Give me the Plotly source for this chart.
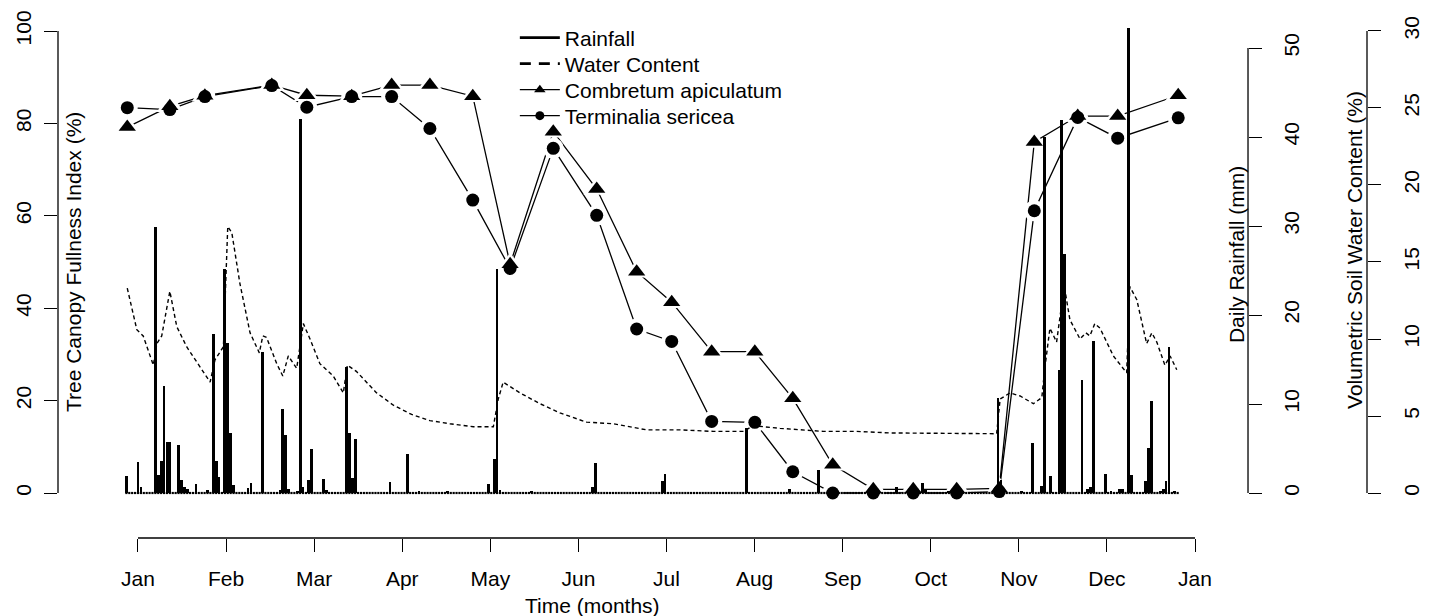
import plotly.graph_objects as go

# ---------------- data ----------------
MONTH_LABELS = ["Jan", "Feb", "Mar", "Apr", "May", "Jun", "Jul", "Aug",
                "Sep", "Oct", "Nov", "Dec", "Jan"]

# canopy survey dates, in days since 1 January
SURVEY_DAYS = [-3.7, 11.0, 23.1, 46.2, 58.3, 73.8, 87.6, 100.8, 115.6, 128.5,
               143.4, 158.4, 172.2, 184.3, 198.1, 213.0, 226.1, 239.9, 253.9,
               267.7, 282.7, 297.4, 309.5, 324.5, 338.3, 359.2]
COMBRETUM = [79.2, 83.7, 86.0, 88.3, 86.1, 85.9, 88.3, 88.3, 85.9, 49.5,
             78.2, 65.8, 47.9, 41.3, 30.6, 30.6, 20.5, 6.1, 0.8, 0.8,
             0.8, 1.0, 76.0, 81.6, 81.6, 86.1]
TERMINALIA = [83.4, 83.0, 85.8, 88.2, 83.5, 85.8, 85.8, 78.9, 63.4, 48.6,
              74.6, 60.1, 35.5, 32.8, 15.5, 15.3, 4.6, 0.0, 0.0, 0.0,
              0.0, 0.3, 61.1, 81.3, 76.8, 81.2]

# daily rainfall record (days since 1 January); days not listed had no rain
RECORD_FIRST_DAY = -4
RECORD_LAST_DAY = 359
RAIN_DAYS = [-4, 0, 1, 6, 7, 8, 9, 10, 11, 14, 15, 16, 17, 20, 24, 26, 27, 28,
             30, 31, 32, 33, 38, 39, 43, 49, 50, 51, 52, 55, 56, 57, 59, 60,
             64, 65, 72, 73, 74, 75, 87, 93, 97, 107, 121, 123, 124, 125, 136,
             157, 158, 181, 182, 210, 225, 235, 253, 262, 271, 272, 280, 297,
             298, 305, 309, 312, 313, 315, 318, 319, 320, 326, 328, 329, 330,
             334, 336, 339, 340, 342, 343, 348, 349, 350, 353, 354, 355, 356,
             358]
RAIN_MM = [1.9, 3.5, 0.7, 29.9, 2.0, 3.55, 12.0, 5.7, 5.7, 5.35, 1.5, 0.7,
           0.5, 1.05, 0.3, 17.9, 3.6, 1.8, 25.2, 16.9, 6.7, 0.9, 0.6, 1.1,
           15.8, 0.3, 9.4, 6.5, 0.5, 0.2, 42.0, 0.7, 1.5, 4.9, 1.6, 0.3,
           14.2, 6.7, 1.7, 6.1, 1.2, 4.4, 0.2, 0.2, 1.0, 3.8, 25.2, 0.3, 0.2,
           0.7, 3.4, 1.4, 2.1, 7.3, 0.5, 2.6, 0.3, 0.7, 1.1, 0.5, 0.2, 10.7,
           1.5, 0.2, 5.65, 0.75, 40.0, 1.9, 13.8, 41.9, 26.9, 12.7, 0.5, 0.7,
           17.1, 2.1, 0.2, 0.5, 0.5, 52.2, 2.05, 1.4, 5.05, 10.3, 0.2, 0.4,
           1.3, 16.4, 0.2]

# volumetric soil water content (%)
WATER_DAYS = [-3.7, -0.4, 1.8, 5.3, 6.5, 8.2, 11.0, 13.4, 16.8, 24.9, 26.6,
              28.3, 29.5, 31.0, 32.4, 35.2, 38.7, 41.9, 43.1, 44.4, 47.9, 50.0,
              51.9, 54.8, 55.9, 57.1, 59.4, 62.8, 67.4, 70.9, 72.3, 75.4, 82.4,
              88.2, 94.5, 100.8, 107.7, 115.8, 122.7, 124.4, 126.1, 131.9,
              138.8, 145.7, 154.9, 164.1, 175.6, 187.2, 198.7, 209.1, 212.5,
              221.7, 236.6, 248.2, 259.7, 271.2, 282.7, 296.5, 297.7, 301.1,
              304.6, 309.2, 312.1, 313.2, 314.9, 317.2, 319.0, 319.7, 321.8,
              325.3, 327.3, 328.7, 330.4, 332.2, 336.8, 341.4, 342.5, 344.9,
              348.3, 350.1, 351.8, 354.6, 356.4, 358.7]
WATER_PCT = [13.3, 10.6, 10.2, 8.3, 9.7, 10.2, 13.1, 10.8, 9.5, 7.2, 8.65,
             9.2, 9.5, 17.3, 16.9, 13.6, 10.4, 9.1, 10.2, 10.1, 8.4, 7.6,
             8.9, 8.1, 9.5, 11.0, 10.0, 8.4, 7.6, 6.5, 8.3, 7.9, 6.5,
             5.7, 5.1, 4.7, 4.5, 4.3, 4.3, 6.1, 7.2, 6.5,
             5.8, 5.2, 4.6, 4.5, 4.1, 4.1, 4.0, 4.0, 4.37,
             4.2, 4.0, 4.0, 3.9, 3.88, 3.9, 3.85, 6.1, 6.5,
             6.3, 5.8, 6.2, 8.2, 10.7, 9.8, 12.3, 13.6, 11.25,
             10.0, 10.4, 10.2, 11.0, 10.7, 8.9, 7.8, 13.4, 12.55,
             9.7, 10.4, 9.8, 8.3, 8.9, 8.0]

# ---------------- derived series ----------------
rain_lookup = dict(zip(RAIN_DAYS, RAIN_MM))
all_days = list(range(RECORD_FIRST_DAY, RECORD_LAST_DAY + 1))
all_rain = [rain_lookup.get(d, 0.0) for d in all_days]
month_ticks = [i * 365 / 12 for i in range(len(MONTH_LABELS))]

FONT = "Liberation Sans, Arial, Helvetica, sans-serif"
FS = 21
BLACK = "#000000"

fig = go.Figure()

# species lines (gaps around points are produced by white halos)
fig.add_trace(go.Scatter(x=SURVEY_DAYS, y=COMBRETUM, mode="lines",
                         line=dict(color=BLACK, width=1.3), showlegend=False,
                         hoverinfo="skip"))
fig.add_trace(go.Scatter(x=SURVEY_DAYS, y=TERMINALIA, mode="lines",
                         line=dict(color=BLACK, width=1.3), showlegend=False,
                         hoverinfo="skip"))
fig.add_trace(go.Scatter(x=SURVEY_DAYS, y=COMBRETUM, mode="markers",
                         marker=dict(symbol="triangle-up", size=23, color="white"),
                         showlegend=False, hoverinfo="skip"))
fig.add_trace(go.Scatter(x=SURVEY_DAYS, y=TERMINALIA, mode="markers",
                         marker=dict(symbol="circle", size=21, color="white"),
                         showlegend=False, hoverinfo="skip"))
fig.add_trace(go.Scatter(x=SURVEY_DAYS, y=COMBRETUM, mode="markers",
                         marker=dict(symbol="triangle-up", size=15, color=BLACK),
                         showlegend=False, name="Combretum apiculatum"))
fig.add_trace(go.Scatter(x=SURVEY_DAYS, y=TERMINALIA, mode="markers",
                         marker=dict(symbol="circle", size=13, color=BLACK),
                         showlegend=False, name="Terminalia sericea"))

# rainfall bars (right axis 1)
fig.add_trace(go.Bar(x=all_days, y=all_rain, yaxis="y2", width=0.95,
                     marker=dict(color=BLACK, line=dict(width=0)),
                     showlegend=False, name="Rainfall"))
fig.add_trace(go.Scatter(x=all_days, y=[0.0] * len(all_days), yaxis="y2",
                         mode="markers",
                         marker=dict(symbol="square", size=2.2, color=BLACK),
                         showlegend=False, hoverinfo="skip"))

# soil water content (right axis 2)
fig.add_trace(go.Scatter(x=WATER_DAYS, y=WATER_PCT, yaxis="y3", mode="lines",
                         line=dict(color=BLACK, width=1.4, dash="4px,3px"),
                         showlegend=False, name="Water Content"))

# legend entries, one legend per row so that the row spacing matches
fig.add_trace(go.Scatter(x=[None], y=[None], mode="lines", name="Rainfall",
                         line=dict(color=BLACK, width=2.6), legend="legend"))
fig.add_trace(go.Scatter(x=[None], y=[None], mode="lines", name="Water Content",
                         line=dict(color=BLACK, width=2.6, dash="11px,8px"),
                         legend="legend2"))
fig.add_trace(go.Scatter(x=[None], y=[None], mode="lines+markers",
                         name="Combretum apiculatum",
                         line=dict(color=BLACK, width=1.3),
                         marker=dict(symbol="triangle-up", size=10, color=BLACK),
                         legend="legend3"))
fig.add_trace(go.Scatter(x=[None], y=[None], mode="lines+markers",
                         name="Terminalia sericea",
                         line=dict(color=BLACK, width=1.3),
                         marker=dict(symbol="circle", size=9, color=BLACK),
                         legend="legend4"))

XDOM_END = 0.9091
PLOT_TOP, PLOT_H = 10, 528


def ypaper(px):
    return 1 - (px - PLOT_TOP) / PLOT_H


def tickstyle(standoff):
    return dict(ticks="outside", ticklen=13, tickwidth=1.3, tickcolor=BLACK,
                showgrid=False, zeroline=False, showline=False,
                automargin=False, ticklabelstandoff=standoff,
                tickfont=dict(family=FONT, size=FS, color=BLACK))


def legend_row(center_px):
    return dict(x=0.349, y=ypaper(center_px), xanchor="left",
                yanchor="middle", bgcolor="rgba(0,0,0,0)", itemwidth=40,
                font=dict(family=FONT, size=FS, color=BLACK))


fig.update_layout(
    width=1429, height=616,
    margin=dict(l=58, r=62, t=PLOT_TOP, b=78, autoexpand=False),
    paper_bgcolor="white", plot_bgcolor="white",
    font=dict(family=FONT, size=FS, color=BLACK),
    bargap=0,
    xaxis=dict(domain=[0, XDOM_END], range=[-27.62, 383.3],
               tickvals=month_ticks, ticktext=MONTH_LABELS, **tickstyle(9)),
    yaxis=dict(range=[-9.74, 104.55], tickvals=[0, 20, 40, 60, 80, 100],
               tickangle=-90, **tickstyle(5)),
    yaxis2=dict(range=[-5.056, 54.27], tickvals=[0, 10, 20, 30, 40, 50],
                overlaying="y", side="right", anchor="x", tickangle=-90,
                **tickstyle(12)),
    yaxis3=dict(range=[-2.92, 31.36], tickvals=[0, 5, 10, 15, 20, 25, 30],
                overlaying="y", side="right", anchor="free", position=1.0,
                tickangle=-90, **tickstyle(13)),
    legend=legend_row(38),
    legend2=legend_row(64),
    legend3=legend_row(90),
    legend4=legend_row(116),
    showlegend=True,
)

# axis lines spanning only the labelled range (as in base R axes)
line_style = dict(color=BLACK, width=1.3)
fig.add_shape(type="line", xref="paper", yref="y", x0=0, x1=0, y0=0, y1=100,
              line=line_style)
fig.add_shape(type="line", xref="paper", yref="y2", x0=XDOM_END, x1=XDOM_END,
              y0=0, y1=50, line=line_style)
fig.add_shape(type="line", xref="paper", yref="y3", x0=1, x1=1, y0=0, y1=30,
              line=line_style)
fig.add_shape(type="line", xref="x", yref="paper", x0=month_ticks[0],
              x1=month_ticks[-1], y0=0, y1=0, line=line_style)

# axis titles
TITLE_Y = ypaper(262)
fig.add_annotation(text="Tree Canopy Fullness Index (%)", textangle=-90,
                   xref="paper", yref="paper", x=0.0115, y=TITLE_Y,
                   showarrow=False, xanchor="center", yanchor="middle",
                   font=dict(size=FS))
fig.add_annotation(text="Daily Rainfall (mm)", textangle=-90,
                   xref="paper", yref="paper", x=0.900, y=ypaper(255),
                   showarrow=False, xanchor="center", yanchor="middle",
                   font=dict(size=FS))
fig.add_annotation(text="Volumetric Soil Water Content (%)", textangle=-90,
                   xref="paper", yref="paper", x=0.990, y=ypaper(250),
                   showarrow=False, xanchor="center", yanchor="middle",
                   font=dict(size=FS))
fig.add_annotation(text="Time (months)", xref="paper", yref="paper",
                   x=0.408, y=ypaper(605), showarrow=False, xanchor="center",
                   yanchor="middle", font=dict(size=FS))

fig.write_html("out.html")
